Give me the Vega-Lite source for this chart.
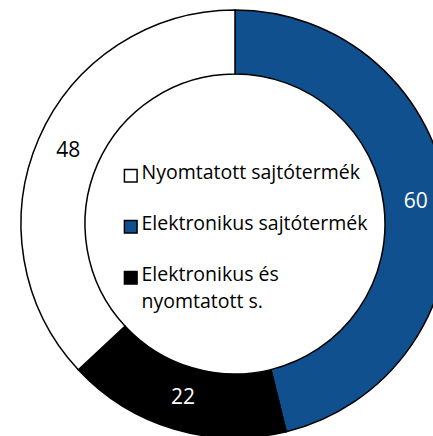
{
  "$schema": "https://vega.github.io/schema/vega-lite/v6.json",
  "width": 470,
  "height": 448,
  "padding": 0,
  "autosize": {"type": "none"},
  "background": "white",
  "config": {"view": {"stroke": null}, "font": "Open Sans"},
  "data": {"values": [
    {"cat": "Elektronikus sajtótermék", "value": 60, "ord": 1},
    {"cat": "Elektronikus és nyomtatott s.", "value": 22, "ord": 2},
    {"cat": "Nyomtatott sajtótermék", "value": 48, "ord": 3}
  ]},
  "encoding": {
    "theta": {"field": "value", "type": "quantitative", "stack": true},
    "order": {"field": "ord", "type": "quantitative"}
  },
  "layer": [
    {
      "mark": {"type": "arc", "outerRadius": 214, "innerRadius": 150, "stroke": "black", "strokeWidth": 1.5},
      "encoding": {
        "color": {
          "field": "cat", "type": "nominal",
          "scale": {"domain": ["Nyomtatott sajtótermék", "Elektronikus sajtótermék", "Elektronikus és nyomtatott s."], "range": ["#ffffff", "#11508E", "#000000"]},
          "legend": {
            "title": null, "orient": "none", "legendX": 121, "legendY": 166,
            "symbolType": "square", "symbolSize": 160, "symbolStrokeColor": "black", "symbolStrokeWidth": 1.5, "symbolOpacity": 1,
            "labelFont": "Open Sans", "labelFontSize": 19.5, "labelColor": "black", "labelOffset": 1, "labelLimit": 300,
            "rowPadding": 27, "labelBaseline": "top",
            "labelExpr": "datum.label == 'Elektronikus és nyomtatott s.' ? ['Elektronikus és', 'nyomtatott s.'] : datum.label",
            "encode": {"labels": {"update": {"lineHeight": {"value": 27}, "dy": {"value": -12}}}}
          }
        }
      }
    },
    {
      "mark": {"type": "text", "radius": 182, "font": "Open Sans", "fontSize": 21},
      "encoding": {
        "text": {"field": "value", "type": "quantitative"},
        "color": {"condition": {"test": "datum.cat === 'Nyomtatott sajtótermék'", "value": "black"}, "value": "white"}
      }
    }
  ]
}
